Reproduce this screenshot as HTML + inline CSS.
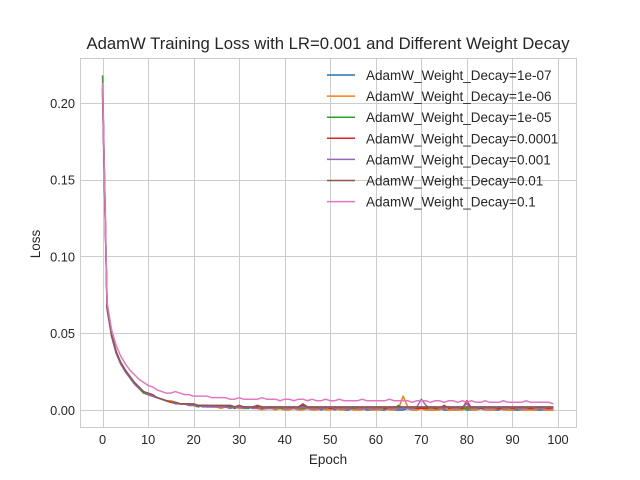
<!DOCTYPE html>
<html><head><meta charset="utf-8"><style>
body{margin:0;background:#fff}
svg{display:block;font-family:"Liberation Sans",sans-serif}
</style></head><body>
<svg id="chart" width="640" height="480">
<rect x="0" y="0" width="640" height="480" fill="#fff"/>
<g id="grid"></g>
<g id="lines"></g>
<rect x="80.5" y="58.5" width="496" height="369" fill="none" stroke="#cccccc" stroke-width="1"/>
<g id="ticks" font-size="12.8" fill="#262626"></g>
<text x="328" y="49" text-anchor="middle" font-size="16.7" fill="#262626">AdamW Training Loss with LR=0.001 and Different Weight Decay</text>
<text x="328" y="464" text-anchor="middle" font-size="13.5" fill="#262626">Epoch</text>
<text x="40" y="244" text-anchor="middle" font-size="13.5" fill="#262626" transform="rotate(-90 40 244)">Loss</text>
<g id="legend" font-size="13.5" fill="#262626"></g>
</svg>
<script>
const labels = ["AdamW_Weight_Decay=1e-07","AdamW_Weight_Decay=1e-06","AdamW_Weight_Decay=1e-05","AdamW_Weight_Decay=0.0001","AdamW_Weight_Decay=0.001","AdamW_Weight_Decay=0.01","AdamW_Weight_Decay=0.1"];
const colors = ["#1f77b4","#ff7f0e","#2ca02c","#d62728","#9467bd","#8c564b","#e377c2"];
const xTicks = [0,10,20,30,40,50,60,70,80,90,100];
const yTicks = [0,0.05,0.10,0.15,0.20];
const yTickLabels = ["0.00","0.05","0.10","0.15","0.20"];
const s1 = [0.205,0.066,0.048,0.037,0.030,0.025,0.021,0.017,0.014,0.012,
0.010,0.009,0.008,0.007,0.006,0.005,0.005,0.004,0.004,0.004,
0.003,0.003,0.003,0.002,0.003,0.002,0.002,0.002,0.002,0.001,
0.002,0.001,0.001,0.002,0.001,0.001,0.001,0.001,0.001,0.001,
0.000,0.001,0.001,0.000,0.001,0.001,0.000,0.001,0.000,0.001,
0.001,0.000,0.001,0.000,0.000,0.001,0.000,0.001,0.000,0.000,
0.001,0.000,0.000,0.001,0.000,0.000,0.000,0.001,0.000,0.000,
0.001,0.000,0.000,0.000,0.001,0.000,0.000,0.000,0.000,0.001,
0.000,0.000,0.000,0.001,0.000,0.000,0.000,0.000,0.001,0.000,
0.000,0.000,0.000,0.001,0.000,0.000,0.000,0.000,0.000,0.000];
const s2 = [0.212,0.068,0.049,0.038,0.031,0.026,0.021,0.017,0.014,0.012,
0.010,0.009,0.008,0.007,0.006,0.006,0.005,0.004,0.004,0.003,
0.003,0.003,0.002,0.003,0.002,0.002,0.001,0.002,0.001,0.002,
0.001,0.001,0.002,0.001,0.001,0.000,0.001,0.001,0.000,0.001,
0.000,0.000,0.001,0.000,0.000,0.001,0.000,0.000,0.001,0.000,
0.000,0.001,0.000,0.000,0.001,0.000,0.000,0.000,0.001,0.000,
0.000,0.000,0.001,0.000,0.000,0.001,0.009,0.002,0.000,0.000,
0.001,0.000,0.000,0.000,0.000,0.001,0.000,0.000,0.000,0.000,
0.001,0.000,0.000,0.002,0.000,0.000,0.000,0.001,0.000,0.000,
0.000,0.001,0.000,0.000,0.000,0.000,0.001,0.000,0.000,0.000];
const s3 = [0.218,0.067,0.048,0.037,0.030,0.025,0.021,0.017,0.014,0.011,
0.010,0.009,0.008,0.007,0.006,0.005,0.005,0.004,0.004,0.003,
0.003,0.002,0.003,0.002,0.002,0.003,0.002,0.002,0.002,0.002,
0.002,0.002,0.001,0.002,0.001,0.002,0.001,0.001,0.002,0.001,
0.001,0.001,0.002,0.001,0.001,0.001,0.001,0.002,0.001,0.001,
0.001,0.002,0.001,0.001,0.001,0.001,0.002,0.001,0.001,0.001,
0.001,0.001,0.001,0.002,0.001,0.003,0.001,0.001,0.001,0.001,
0.002,0.001,0.001,0.001,0.001,0.001,0.002,0.001,0.001,0.001,
0.001,0.001,0.001,0.001,0.002,0.001,0.001,0.001,0.001,0.001,
0.001,0.001,0.001,0.001,0.001,0.001,0.001,0.001,0.001,0.001];
const s4 = [0.210,0.066,0.048,0.037,0.030,0.025,0.021,0.017,0.014,0.012,
0.010,0.009,0.008,0.007,0.006,0.005,0.005,0.004,0.004,0.004,
0.003,0.003,0.003,0.003,0.002,0.002,0.003,0.002,0.003,0.002,
0.002,0.002,0.002,0.001,0.002,0.002,0.001,0.002,0.001,0.002,
0.001,0.002,0.001,0.001,0.003,0.001,0.002,0.001,0.001,0.002,
0.001,0.001,0.002,0.001,0.001,0.002,0.001,0.001,0.002,0.001,
0.001,0.002,0.001,0.001,0.002,0.001,0.001,0.001,0.002,0.001,
0.001,0.001,0.002,0.001,0.001,0.003,0.001,0.001,0.002,0.001,
0.006,0.001,0.002,0.001,0.001,0.002,0.001,0.001,0.001,0.002,
0.001,0.001,0.002,0.001,0.001,0.001,0.002,0.001,0.001,0.001];
const s5 = [0.207,0.067,0.048,0.037,0.030,0.025,0.021,0.017,0.014,0.012,
0.010,0.009,0.008,0.007,0.006,0.005,0.004,0.004,0.004,0.003,
0.003,0.003,0.002,0.002,0.002,0.002,0.002,0.002,0.001,0.002,
0.002,0.001,0.002,0.001,0.001,0.002,0.001,0.001,0.001,0.002,
0.001,0.001,0.001,0.001,0.002,0.001,0.001,0.001,0.001,0.001,
0.002,0.001,0.001,0.001,0.001,0.002,0.001,0.001,0.001,0.001,
0.001,0.001,0.002,0.001,0.001,0.001,0.001,0.001,0.001,0.002,
0.007,0.003,0.001,0.002,0.001,0.001,0.002,0.001,0.001,0.002,
0.004,0.001,0.001,0.002,0.001,0.001,0.001,0.002,0.001,0.001,
0.002,0.001,0.001,0.001,0.002,0.001,0.001,0.001,0.002,0.001];
const s6 = [0.209,0.066,0.049,0.038,0.031,0.026,0.022,0.018,0.015,0.012,
0.011,0.010,0.008,0.007,0.006,0.005,0.005,0.004,0.004,0.004,
0.004,0.003,0.003,0.003,0.003,0.003,0.003,0.003,0.003,0.002,
0.003,0.002,0.002,0.002,0.003,0.002,0.002,0.002,0.002,0.002,
0.002,0.002,0.002,0.002,0.004,0.002,0.002,0.002,0.002,0.002,
0.002,0.002,0.002,0.002,0.002,0.002,0.002,0.002,0.002,0.002,
0.002,0.002,0.002,0.002,0.002,0.002,0.002,0.002,0.002,0.002,
0.002,0.002,0.002,0.002,0.002,0.002,0.002,0.002,0.002,0.002,
0.002,0.002,0.002,0.002,0.002,0.002,0.002,0.002,0.002,0.002,
0.002,0.002,0.002,0.002,0.002,0.002,0.002,0.002,0.002,0.002];
const s7 = [0.213,0.070,0.052,0.042,0.035,0.030,0.026,0.023,0.020,0.018,
0.016,0.015,0.013,0.012,0.011,0.011,0.012,0.011,0.010,0.010,
0.009,0.009,0.009,0.009,0.008,0.008,0.008,0.008,0.007,0.007,
0.008,0.007,0.007,0.007,0.007,0.008,0.007,0.007,0.007,0.006,
0.007,0.007,0.006,0.007,0.007,0.006,0.007,0.006,0.006,0.007,
0.006,0.006,0.007,0.006,0.006,0.006,0.006,0.007,0.006,0.006,
0.006,0.006,0.006,0.007,0.006,0.006,0.006,0.006,0.005,0.006,
0.006,0.006,0.005,0.006,0.006,0.005,0.006,0.006,0.005,0.006,
0.005,0.006,0.005,0.005,0.006,0.005,0.005,0.005,0.006,0.005,
0.005,0.005,0.005,0.006,0.005,0.005,0.005,0.005,0.005,0.004];
const series = [s1,s2,s3,s4,s5,s6,s7];

const NS = "http://www.w3.org/2000/svg";
const L=80,R=576,T=58,B=427;
const xMin=-4.95,xMax=103.95,yMin=-0.0111,yMax=0.2293;
const xs = v => L + (v-xMin)/(xMax-xMin)*(R-L);
const ys = v => B - (v-yMin)/(yMax-yMin)*(B-T);
function mk(tag, attrs, parent){const e=document.createElementNS(NS,tag);for(const k in attrs)e.setAttribute(k,attrs[k]);parent.appendChild(e);return e;}
const grid=document.getElementById('grid'), ticks=document.getElementById('ticks');
xTicks.forEach(t=>{
  const x=Math.round(xs(t))+0.5;
  const g=mk('line',{x1:x,x2:x,y1:T,y2:B,stroke:'#cccccc','stroke-width':1},grid);
  
  
  const tx=mk('text',{x:xs(t),y:B+17,'text-anchor':'middle'},ticks);
  tx.textContent=String(t);
  
  
});
yTicks.forEach((t,i)=>{
  const y=Math.round(ys(t))+0.5;
  const g=mk('line',{x1:L,x2:R,y1:y,y2:y,stroke:'#cccccc','stroke-width':1},grid);
  
  
  const tx=mk('text',{x:L-5,y:ys(t)+5,'text-anchor':'end'},ticks);
  tx.textContent=yTickLabels[i];
  
  
});
const lines=document.getElementById('lines'), legend=document.getElementById('legend');
series.forEach((s,i)=>{
  const d=s.map((v,j)=>(j?'L':'M')+xs(j).toFixed(2)+' '+ys(v).toFixed(2)).join(' ');
  const p=mk('path',{d:d,fill:'none',stroke:colors[i],'stroke-width':1.5,'stroke-linejoin':'round'},lines);
  
  
  const ly=75+i*21.1;
  const ll=mk('line',{x1:327,x2:355,y1:ly,y2:ly,stroke:colors[i],'stroke-width':1.5},legend);
  
  
  const lt=mk('text',{x:366,y:ly+5},legend);
  lt.textContent=labels[i];
  
  
});
</script>
</body></html>
